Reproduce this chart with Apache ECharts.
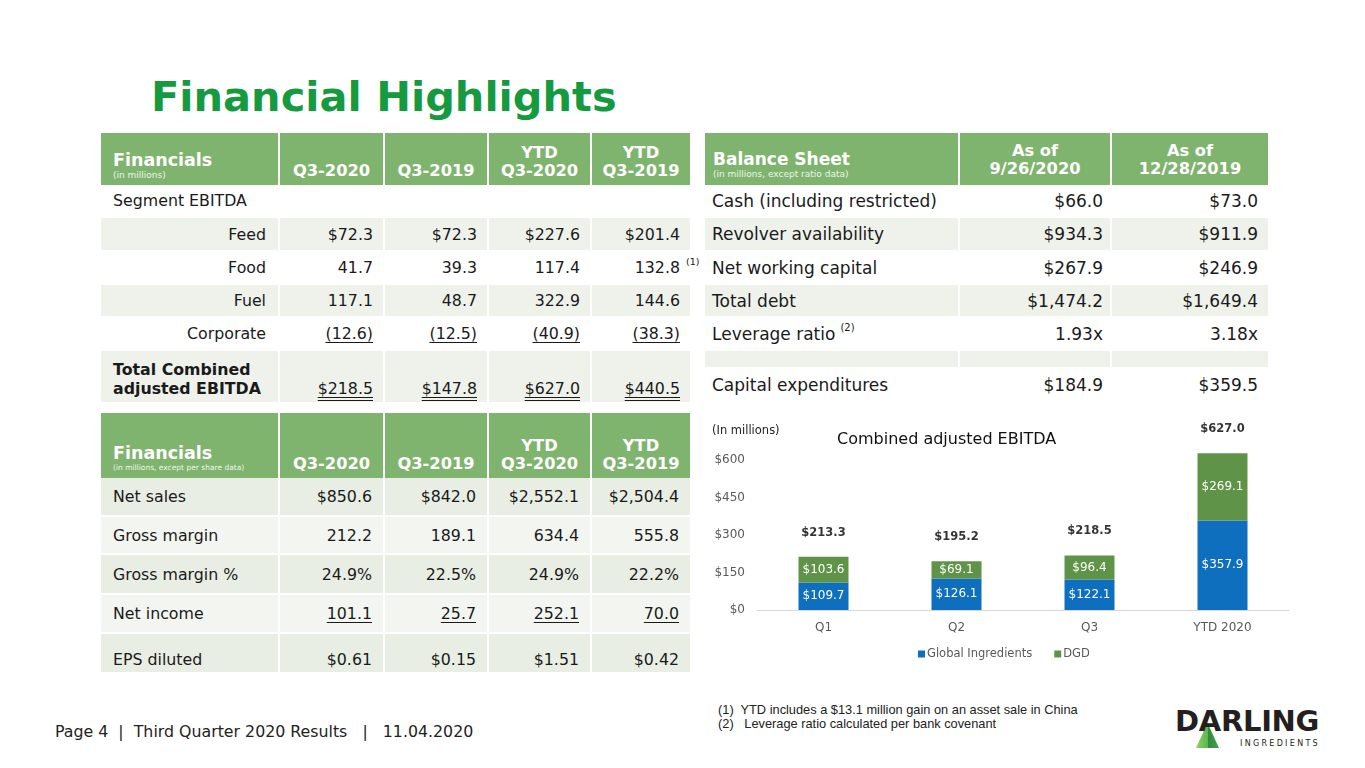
<!DOCTYPE html>
<html><head><meta charset="utf-8">
<script src="https://cdn.jsdelivr.net/npm/echarts@6/dist/echarts.min.js"></script>
<style>
html,body{margin:0;padding:0;background:#fff;}
body{width:1365px;height:768px;position:relative;overflow:hidden;font-family:"DejaVu Sans",Verdana,sans-serif;color:#1a1a1a;}
.c{position:absolute;box-sizing:border-box;display:flex;font-size:15.8px;white-space:nowrap;}
.hd{background:#7fb46e;color:#fff;font-weight:bold;}
.lt{background:#eef2eb;}
.lt2{background:#e8eee3;}
.lt3{background:#f3f6f0;}
.u{text-decoration:underline;text-underline-offset:3px;}
.uu{text-decoration:underline double;text-underline-offset:3px;}
.sp{font-size:10px;position:relative;top:-6px;margin-left:5px;}
#title{position:absolute;left:151px;top:72px;font-size:41.5px;font-weight:bold;color:#169a3f;}
#footer{position:absolute;left:55px;top:722px;font-size:15.8px;color:#222;}
#notes{position:absolute;left:718px;top:703px;font-family:"Liberation Sans",Arial,sans-serif;font-size:12.8px;color:#222;line-height:14px;}
#chart{position:absolute;left:700px;top:410px;width:600px;height:265px;}
#logo{position:absolute;left:1175px;top:704px;width:150px;height:50px;}
#logo .d{position:absolute;left:0;top:0;font-family:"DejaVu Sans",sans-serif;font-weight:bold;font-size:29px;color:#231f20;letter-spacing:-0.3px;}
#logo .i{position:absolute;left:65px;top:35px;font-size:8px;letter-spacing:2.3px;color:#231f20;}
#logo .tri{position:absolute;left:21px;top:19px;width:23px;height:25px;background:linear-gradient(90deg,#8fd16a 0%,#5cb84a 50%,#2f8a3a 51%,#3fa34a 100%);clip-path:polygon(50% 0,100% 100%,0 100%);}
</style></head>
<body>
<div id="title">Financial Highlights</div>
<div id="t1"></div>
<div id="chart"></div>
<div id="notes">(1)&nbsp; YTD includes a $13.1 million gain on an asset sale in China<br>(2)&nbsp;&nbsp; Leverage ratio calculated per bank covenant</div>
<div id="footer">Page 4&nbsp; |&nbsp; Third Quarter 2020 Results&nbsp;&nbsp; |&nbsp;&nbsp; 11.04.2020</div>
<div id="logo"><div class="tri"></div><div class="d">DARLING</div><div class="i">INGREDIENTS</div></div>
<script>
// ---------- Chart data ----------
const categories = ['Q1', 'Q2', 'Q3', 'YTD 2020'];
const globalIngredients = [109.7, 126.1, 122.1, 357.9];
const dgd = [103.6, 69.1, 96.4, 269.1];
const totals = [213.3, 195.2, 218.5, 627.0];
const yTickValues = [0, 150, 300, 450, 600];

// ---------- Table data ----------
const finColumns = ['Q3-2020', 'Q3-2019', 'YTD<br>Q3-2020', 'YTD<br>Q3-2019'];
const segmentLabels = ['Feed', 'Food', 'Fuel', 'Corporate'];
const feedValues = ['$72.3', '$72.3', '$227.6', '$201.4'];
const foodValues = ['41.7', '39.3', '117.4', '132.8'];
const fuelValues = ['117.1', '48.7', '322.9', '144.6'];
const corporateValues = ['(12.6)', '(12.5)', '(40.9)', '(38.3)'];
const totalEbitdaValues = ['$218.5', '$147.8', '$627.0', '$440.5'];

const incomeLabels = ['Net sales', 'Gross margin', 'Gross margin %', 'Net income', 'EPS diluted'];
const netSalesValues = ['$850.6', '$842.0', '$2,552.1', '$2,504.4'];
const grossMarginValues = ['212.2', '189.1', '634.4', '555.8'];
const grossMarginPctValues = ['24.9%', '22.5%', '24.9%', '22.2%'];
const netIncomeValues = ['101.1', '25.7', '252.1', '70.0'];
const epsValues = ['$0.61', '$0.15', '$1.51', '$0.42'];

const balanceColumns = ['As of<br>9/26/2020', 'As of<br>12/28/2019'];
const balanceLabels = ['Cash (including restricted)', 'Revolver availability', 'Net working capital', 'Total debt', 'Leverage ratio<span class="sp">(2)</span>', '', 'Capital expenditures'];
const balance2020 = ['$66.0', '$934.3', '$267.9', '$1,474.2', '1.93x', '', '$184.9'];
const balance2019 = ['$73.0', '$911.9', '$246.9', '$1,649.4', '3.18x', '', '$359.5'];

// ---------- Table builder ----------
const root = document.getElementById('t1');
function cell(x, y, w, h, cls, html, css) {
  const d = document.createElement('div');
  d.className = 'c ' + (cls || '');
  d.style.left = x + 'px'; d.style.top = y + 'px';
  d.style.width = w + 'px'; d.style.height = h + 'px';
  if (css) d.style.cssText += css;
  d.innerHTML = html;
  root.appendChild(d);
  return d;
}
const R = 'justify-content:flex-end;align-items:center;padding-right:10px;';
const L = 'justify-content:flex-start;align-items:center;padding-left:12px;';
const HC = 'justify-content:center;align-items:flex-end;text-align:center;padding-bottom:5px;font-size:16.3px;line-height:18px;';

// Table 1
const c1x = [101, 280, 385, 489, 592];
const c1w = [177, 103, 102, 101, 98];
cell(c1x[0], 133, c1w[0], 52, 'hd', '<div><div style="font-size:17.5px;line-height:20px">Financials</div><div style="font-size:9px;font-weight:normal;color:#eef5ea">(in millions)</div></div>', 'align-items:flex-end;padding-left:12px;padding-bottom:5px;');
finColumns.forEach((t, i) => cell(c1x[i+1], 133, c1w[i+1], 52, 'hd', '<div>' + t + '</div>', HC));
cell(101, 185, 589, 31, '', 'Segment EBITDA', L);
const segRows = [[218, 32, 'lt', feedValues], [252, 31, '', foodValues], [285, 31, 'lt', fuelValues], [318, 31, '', corporateValues]];
segRows.forEach((r, ri) => {
  cell(c1x[0], r[0], c1w[0], r[1], r[2], segmentLabels[ri], R + 'padding-right:12px;');
  r[3].forEach((v, i) => {
    let h = v;
    if (ri === 3) h = '<span class="u">' + v + '</span>';
    const el = cell(c1x[i+1], r[0], c1w[i+1], r[1], r[2], h, R);
    if (ri === 1 && i === 3) {
      el.style.overflow = 'visible';
      el.innerHTML = v + '<span style="position:absolute;left:94px;top:4px;font-size:9.5px">(1)</span>';
    }
  });
});
cell(c1x[0], 351, c1w[0], 51, 'lt', '<div style="font-weight:bold;line-height:19px">Total Combined<br>adjusted EBITDA</div>', 'align-items:flex-end;padding-left:12px;padding-bottom:4px;');
totalEbitdaValues.forEach((v, i) => cell(c1x[i+1], 351, c1w[i+1], 51, 'lt', '<span class="uu">' + v + '</span>', 'justify-content:flex-end;align-items:flex-end;padding-right:10px;padding-bottom:4px;'));

// Table 2
cell(c1x[0], 413, c1w[0], 65, 'hd', '<div><div style="font-size:17.5px;line-height:20px">Financials</div><div style="font-size:7.5px;font-weight:normal;color:#eef5ea">(in millions, except per share data)</div></div>', 'align-items:flex-end;padding-left:12px;padding-bottom:6px;');
finColumns.forEach((t, i) => cell(c1x[i+1], 413, c1w[i+1], 65, 'hd', '<div>' + t + '</div>', HC));
const incRows = [[478, 37, 'lt2', netSalesValues], [517, 36, 'lt3', grossMarginValues], [555, 38, 'lt2', grossMarginPctValues], [595, 37, 'lt3', netIncomeValues], [634, 38, 'lt2', epsValues]];
incRows.forEach((r, ri) => {
  const pad = ri === 4 ? 'padding-top:12px;' : '';
  cell(c1x[0], r[0], c1w[0], r[1], r[2], incomeLabels[ri], L + pad);
  r[3].forEach((v, i) => cell(c1x[i+1], r[0], c1w[i+1], r[1], r[2], ri === 3 ? '<span class="u">' + v + '</span>' : v, R + 'padding-right:11px;' + pad));
});

// Balance sheet
const bx = [705, 960, 1112];
const bw = [253, 150, 156];
cell(bx[0], 133, bw[0], 52, 'hd', '<div><div style="font-size:17px;line-height:20px">Balance Sheet</div><div style="font-size:9px;font-weight:normal;color:#eef5ea">(in millions, except ratio data)</div></div>', 'align-items:flex-end;padding-left:8px;padding-bottom:6px;');
balanceColumns.forEach((t, i) => cell(bx[i+1], 133, bw[i+1], 52, 'hd', '<div>' + t + '</div>', HC + 'padding-bottom:7px;'));
const bRows = [[185, 31, ''], [218, 32, 'lt'], [252, 31, ''], [285, 31, 'lt'], [318, 31, ''], [351, 16, 'lt'], [367, 35, '']];
bRows.forEach((r, ri) => {
  const fs = 'font-size:17px;';
  cell(bx[0], r[0], bw[0], r[1], r[2], balanceLabels[ri], L + 'padding-left:7px;' + fs);
  cell(bx[1], r[0], bw[1], r[1], r[2], balance2020[ri], R + 'padding-right:7px;' + fs);
  cell(bx[2], r[0], bw[2], r[1], r[2], balance2019[ri], R + 'padding-right:10px;' + fs);
});

// ---------- Chart ----------
const chart = echarts.init(document.getElementById('chart'));
const F = '"DejaVu Sans", Verdana, sans-serif';
chart.setOption({
  animation: false,
  textStyle: { fontFamily: F },
  title: [
    { text: 'Combined adjusted EBITDA', left: 137, top: 22, padding: 0, textStyle: { fontSize: 16, fontWeight: 'normal', color: '#111', fontFamily: F } },
    { text: '(In millions)', left: 12, top: 15, padding: 0, textStyle: { fontSize: 11.5, fontWeight: 'normal', color: '#222', fontFamily: F } }
  ],
  legend: {
    data: ['Global Ingredients', 'DGD'],
    left: 213, top: 233, icon: 'rect', itemWidth: 7, itemHeight: 7, itemGap: 22,
    textStyle: { fontSize: 11.5, color: '#595959', fontFamily: F, padding: [0, 0, 0, -3] }
  },
  grid: { left: 57, right: 11, top: 37.5, bottom: 65, containLabel: false },
  xAxis: {
    type: 'category', data: categories,
    axisLine: { lineStyle: { color: '#d9d9d9' } },
    axisTick: { show: false },
    axisLabel: { color: '#595959', fontSize: 12, margin: 12, fontFamily: F }
  },
  yAxis: {
    type: 'value', min: 0, max: 650, interval: 150,
    axisLine: { show: false }, axisTick: { show: false },
    splitLine: { show: false },
    axisLabel: { color: '#595959', fontSize: 12, margin: 12, fontFamily: F,
      formatter: v => yTickValues.indexOf(v) >= 0 ? '$' + v : '' }
  },
  series: [
    { name: 'Global Ingredients', type: 'bar', stack: 'e', data: globalIngredients, barWidth: 50,
      itemStyle: { color: '#0e6fbf' },
      label: { show: true, position: 'inside', color: '#fff', fontSize: 12, fontFamily: F, formatter: p => '$' + p.value.toFixed(1) } },
    { name: 'DGD', type: 'bar', stack: 'e', data: dgd, barWidth: 50,
      itemStyle: { color: '#5f9448' },
      label: { show: true, position: 'inside', color: '#fff', fontSize: 12, fontFamily: F, formatter: p => '$' + p.value.toFixed(1) } },
    { name: 'Total', type: 'scatter', data: totals, symbolSize: 0, silent: true,
      label: { show: true, position: 'top', distance: 18, color: '#000', fontWeight: 'bold', fontSize: 11.5, fontFamily: F, formatter: p => '$' + p.value.toFixed(1) } }
  ]
});
</script>
</body></html>
